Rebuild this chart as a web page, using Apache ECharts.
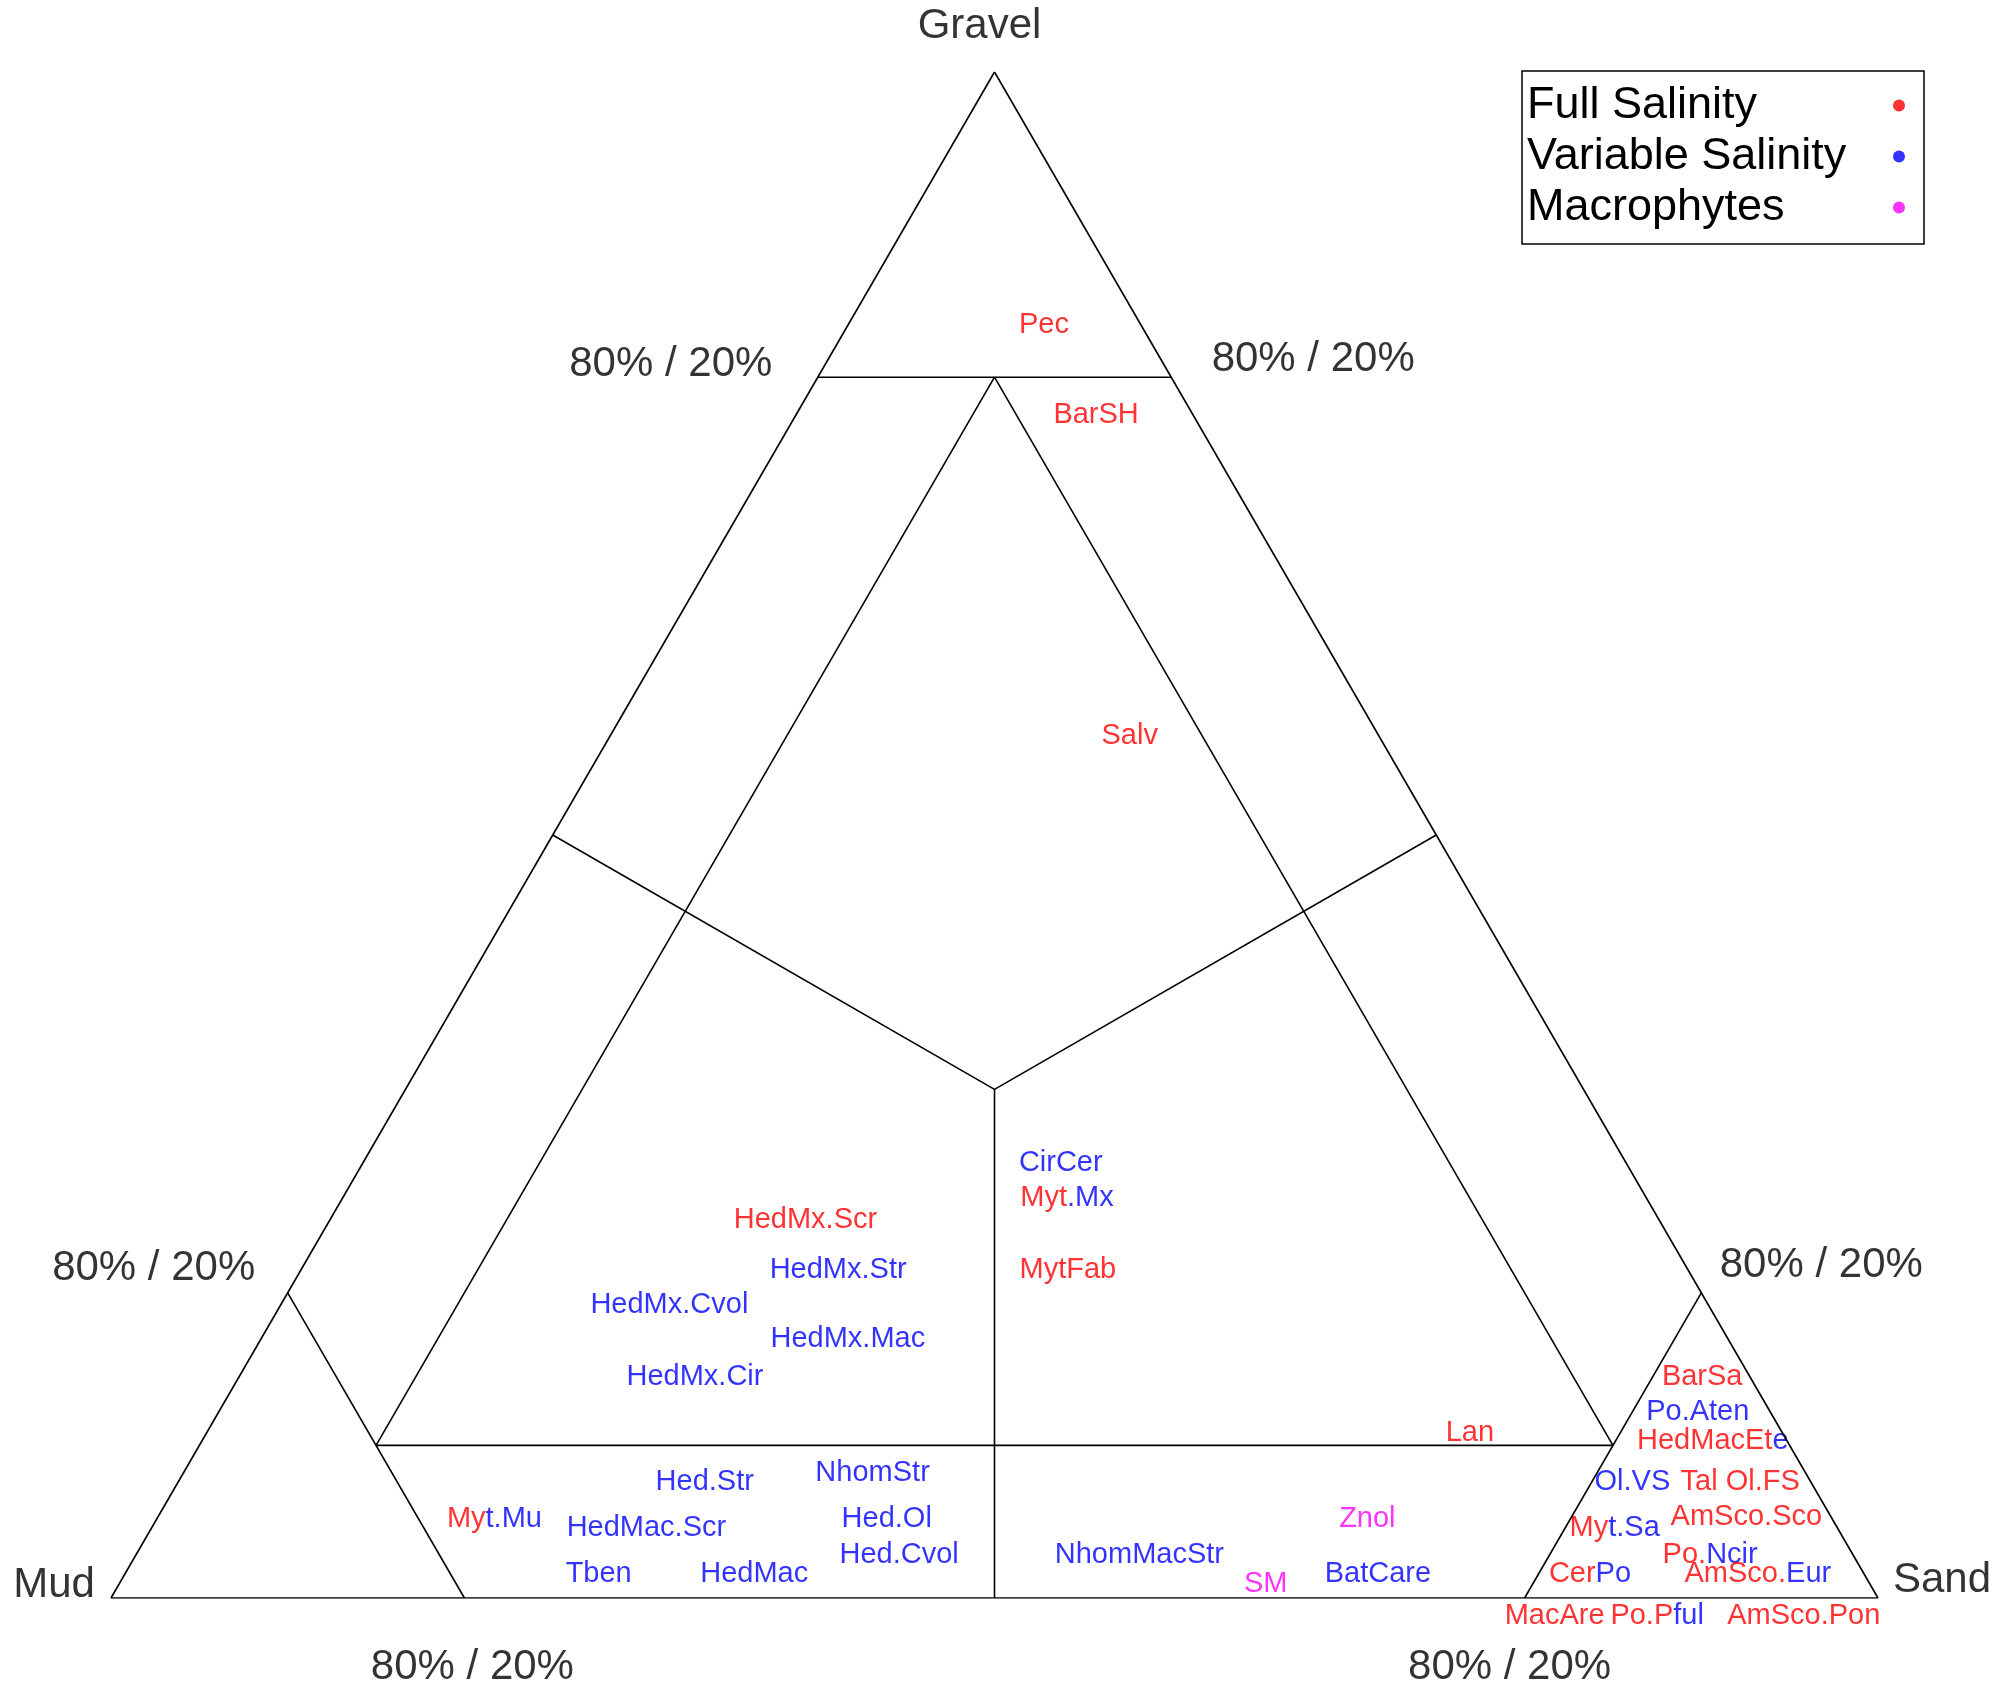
<!DOCTYPE html>
<html><head><meta charset="utf-8">
<script src="https://cdn.jsdelivr.net/npm/echarts@6/dist/echarts.min.js"></script>
<style>html,body{margin:0;padding:0;background:#fff}#c{width:1996px;height:1694px}</style>
</head><body><div id="c"></div>
<script>
// Ternary values in percent: gravel, sand (mud = 100 - gravel - sand)
// Split index: characters from this index on are drawn in the second colour (-1 = single colour)
const fullNames  = ['Pec','BarSH','Salv','HedMx.Scr','Myt.Mx','MytFab','Lan','Myt.Mu','BarSa','HedMacEte','Tal Ol.FS','Myt.Sa','AmSco.Sco','Po.Ncir','CerPo','AmSco.Eur','MacAre','Po.Pful','AmSco.Pon'];
const fullGravel = [83.4, 77.5, 56.5, 24.8, 26.2, 21.5, 10.8, 5.2, 14.5, 10.3, 7.6, 4.6, 5.3, 2.8, 1.6, 1.6, 0, 0, 0];
const fullSand   = [11.1, 17.0, 29.4, 26.9, 41.0, 43.4, 71.5, 19.1, 82.8, 85.5, 88.4, 82.8, 89.9, 89.1, 82.9, 92.4, 81.7, 87.5, 95.8];
const fullSplit  = [-1, -1, -1, -1, 3, -1, -1, 2, -1, 8, -1, 2, -1, 3, 3, 6, -1, 4, -1];

const varNames  = ['CirCer','HedMx.Str','HedMx.Cvol','HedMx.Mac','HedMx.Cir','Hed.Str','NhomStr','HedMac.Scr','Hed.Ol','Hed.Cvol','Tben','HedMac','NhomMacStr','BatCare','Po.Aten','Ol.VS'];
const varGravel = [28.5, 21.5, 19.2, 17.0, 14.5, 7.6, 8.2, 4.6, 5.2, 2.8, 1.6, 1.6, 2.8, 1.6, 12.2, 7.6];
const varSand   = [39.5, 30.4, 22.0, 33.2, 25.8, 29.8, 39.0, 28.0, 41.3, 43.2, 26.8, 35.6, 56.8, 70.9, 83.7, 82.3];

const macNames  = ['Znol','SM'];
const macGravel = [5.2, 0.9];
const macSand   = [68.5, 64.9];

// Class boundaries: [gravel, sand] end points
const boundaries = [
  [[0,0],[0,100]], [[0,100],[100,0]], [[100,0],[0,0]],
  [[80,0],[80,20]],
  [[80,10],[10,10]], [[80,10],[10,80]], [[10,10],[10,80]],
  [[20,0],[0,20]], [[20,80],[0,80]],
  [[50,0],[100/3,100/3]], [[50,50],[100/3,100/3]], [[100/3,100/3],[0,50]]
];

// Corner names and boundary annotations: [gravel, sand]
const cornerNames = ['Gravel','Mud','Sand'];
const cornerPts   = [[100,0],[0,0],[0,100]];
const ratioText   = '80% / 20%';
const ratioPts    = [[80,0],[80,20],[20,0],[20,80],[0,20],[0,80]];

const H = Math.sqrt(3)/2;
function tern(g, s){ return [s/100 + g/200, g/100*H]; }

const RED = '#ff0000', BLUE = '#0000ff', MAG = '#ff00ff';
const FONT = '"Liberation Sans", Arial, sans-serif';
const LBL = 29;

const series = [];
boundaries.forEach(function(seg){
  series.push({type:'line', silent:true, symbol:'none', animation:false,
    lineStyle:{color:'#000', width:1.6},
    data: seg.map(function(p){ return tern(p[0], p[1]); })});
});

function labelSeries(name, color, names, gr, sa, split){
  return {
    name:name, type:'scatter', symbolSize:0, animation:false, silent:true,
    itemStyle:{color:color},
    data: names.map(function(n,i){
      const sp = split ? split[i] : -1;
      return {
        value: tern(gr[i], sa[i]),
        label:{
          show:true, position:'inside',
          offset: gr[i] === 0 ? [0, 18] : [0, 0],
          formatter: sp > 0 ? '{a|' + n.slice(0, sp) + '}{b|' + n.slice(sp) + '}' : n,
          color: color, fontSize: LBL, fontFamily: FONT,
          rich:{a:{color:color, fontSize:LBL, fontFamily:FONT}, b:{color:BLUE, fontSize:LBL, fontFamily:FONT}}
        }
      };
    })
  };
}
series.push(labelSeries('Full Salinity', RED, fullNames, fullGravel, fullSand, fullSplit));
series.push(labelSeries('Variable Salinity', BLUE, varNames, varGravel, varSand, null));
series.push(labelSeries('Macrophytes', MAG, macNames, macGravel, macSand, null));

const cornerOffsets = [[-15,-46],[-57,-13],[64,-18]];
const ratioOffsets  = [[-147,-13],[142,-18],[-134,-24],[120,-27],[8,69],[-15,69]];
series.push({
  name:'annot', type:'scatter', symbolSize:0, animation:false, silent:true,
  data: cornerPts.map(function(p,i){ return {value:tern(p[0],p[1]), label:{show:true, position:'inside', offset:cornerOffsets[i], formatter:cornerNames[i]}}; })
    .concat(ratioPts.map(function(p,i){ return {value:tern(p[0],p[1]), label:{show:true, position:'inside', offset:ratioOffsets[i], formatter:ratioText}}; })),
  label:{color:'#000', fontSize:42, fontFamily:FONT}
});

const chart = echarts.init(document.getElementById('c'), null, {renderer:'canvas'});
chart.setOption({
  backgroundColor:'#fff',
  animation:false,
  grid:{left:111, right:118, top:72, bottom:96},
  xAxis:{type:'value', min:0, max:1, show:false},
  yAxis:{type:'value', min:0, max:H, show:false},
  legend:{
    data:['Full Salinity','Variable Salinity','Macrophytes'],
    orient:'vertical', left:1522, top:71, align:'right', icon:'circle',
    itemWidth:12, itemHeight:12, itemGap:6,
    borderColor:'#000', borderWidth:1.5, padding:[12,19,14,5],
    selectedMode:false,
    formatter:function(n){ return '{n|' + n + '}'; },
    textStyle:{color:'#000', fontSize:45, fontFamily:FONT,
      rich:{n:{width:361, align:'left', fontSize:45, fontFamily:FONT, color:'#000'}}}
  },
  series: series
});
</script></body></html>
